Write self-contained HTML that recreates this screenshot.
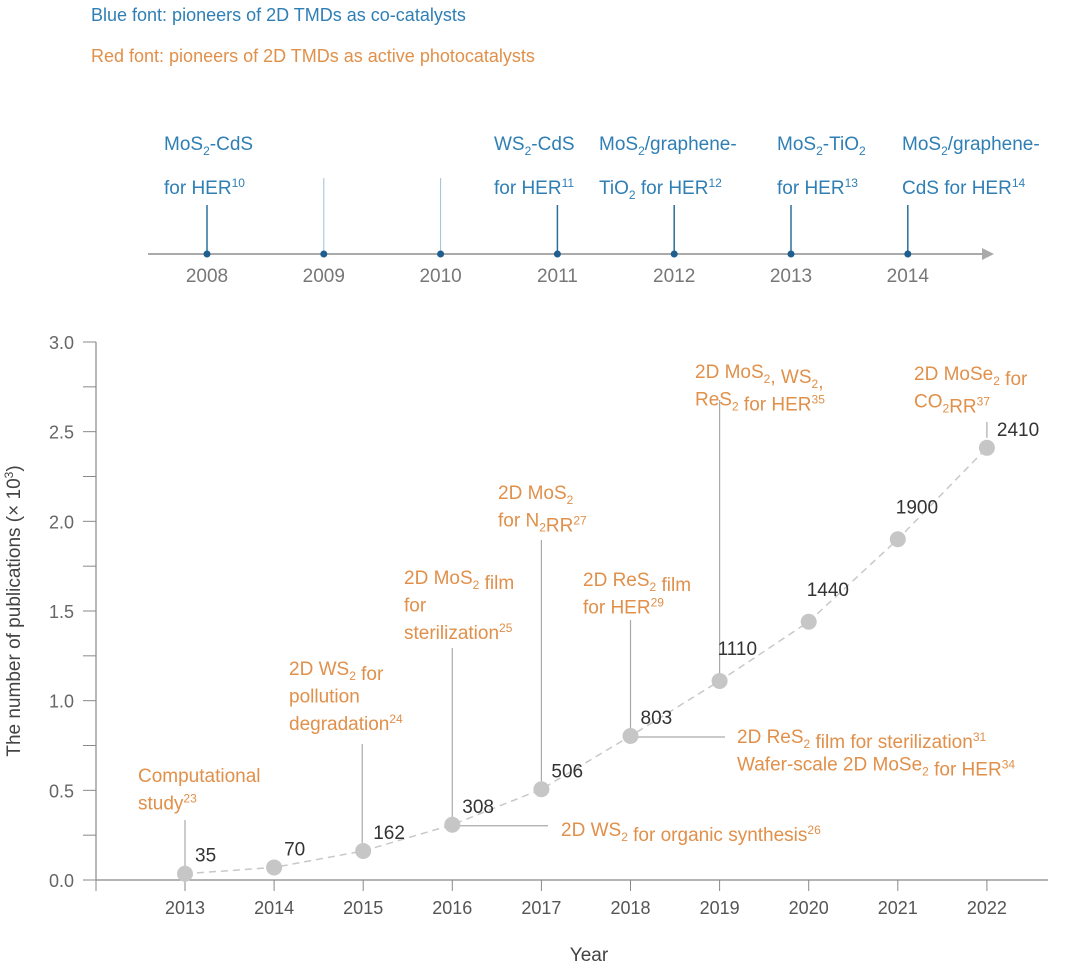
<!DOCTYPE html>
<html><head><meta charset="utf-8"><style>
body{margin:0;background:#fff;font-family:"Liberation Sans",sans-serif}
svg text{font-family:"Liberation Sans",sans-serif}
</style></head><body>
<svg width="1080" height="965" viewBox="0 0 1080 965" xmlns="http://www.w3.org/2000/svg">
<text x="91" y="21" font-size="18" fill="#2f7fb5">Blue font: pioneers of 2D TMDs as co-catalysts</text>
<text x="91" y="62" font-size="18" fill="#e0904a">Red font: pioneers of 2D TMDs as active photocatalysts</text>
<g id="timeline"></g>
<g id="plot"></g>
</svg>
<script>
const tlYears=[2008,2009,2010,2011,2012,2013,2014];
const years=[2013,2014,2015,2016,2017,2018,2019,2020,2021,2022];
const pubs=[35,70,162,308,506,803,1110,1440,1900,2410];
const yTicks=["0.0","0.5","1.0","1.5","2.0","2.5","3.0"];
const NS="http://www.w3.org/2000/svg";
function mk(p,t,a,txt){const e=document.createElementNS(NS,t);for(const k in a)e.setAttribute(k,a[k]);if(txt!==undefined)e.innerHTML=txt;p.appendChild(e);return e;}
const BLUE="#2f7fb5",ORG="#e0904a";
// timeline
const tl=document.getElementById('timeline');
const tx=y=>207+(y-2008)*116.8;
mk(tl,'line',{x1:148,y1:254,x2:984,y2:254,stroke:'#aaa','stroke-width':2});
mk(tl,'path',{d:'M982,248 L994,254 L982,260 Z',fill:'#aaa'});
const tlLabels={2008:['MoS<tspan font-size="12" dy="5">2</tspan><tspan dy="-5">-CdS</tspan>','for HER<tspan font-size="12" dy="-7">10</tspan>'],
2011:['WS<tspan font-size="12" dy="5">2</tspan><tspan dy="-5">-CdS</tspan>','for HER<tspan font-size="12" dy="-7">11</tspan>'],
2012:['MoS<tspan font-size="12" dy="5">2</tspan><tspan dy="-5">/graphene-</tspan>','TiO<tspan font-size="12" dy="5">2</tspan><tspan dy="-5"> for HER</tspan><tspan font-size="12" dy="-7">12</tspan>'],
2013:['MoS<tspan font-size="12" dy="5">2</tspan><tspan dy="-5">-TiO</tspan><tspan font-size="12" dy="5">2</tspan>','for HER<tspan font-size="12" dy="-7">13</tspan>'],
2014:['MoS<tspan font-size="12" dy="5">2</tspan><tspan dy="-5">/graphene-</tspan>','CdS for HER<tspan font-size="12" dy="-7">14</tspan>']};
const tlLeft={2008:164,2011:494,2012:599,2013:777,2014:902};
tlYears.forEach(y=>{
  const x=tx(y);const has=!!tlLabels[y];
  const ln=mk(tl,'line',{x1:x,y1:has?205:178,x2:x,y2:254,stroke:has?'#2a6f9a':'#9cc0d8','stroke-width':has?1.5:1});
  
  const c=mk(tl,'circle',{cx:x,cy:254,r:3.5,fill:'#1f5f8f'});
  
  const t=mk(tl,'text',{x:x,y:282,'font-size':19,fill:'#777','text-anchor':'middle'},y);
  
  if(has){
    const a=mk(tl,'text',{x:tlLeft[y],y:150,'font-size':19,fill:BLUE},tlLabels[y][0]);
    
    const b=mk(tl,'text',{x:tlLeft[y],y:194,'font-size':19,fill:BLUE},tlLabels[y][1]);
    
  }
});
// plot
const g=document.getElementById('plot');
const X0=96,Y0=880,YT=342;
const xs=y=>185+(y-2013)*89.1;
const ys=v=>Y0-(v/1000)/3*(Y0-YT);
mk(g,'line',{x1:X0,y1:YT,x2:X0,y2:Y0,stroke:'#888','stroke-width':1.2});
mk(g,'line',{x1:X0,y1:Y0,x2:1048,y2:Y0,stroke:'#888','stroke-width':1.2});
mk(g,'line',{x1:X0,y1:Y0,x2:X0,y2:891,stroke:'#888'});
for(let i=0;i<=12;i++){const v=i*250;const y=ys(v);
  mk(g,'line',{x1:83,y1:y,x2:X0,y2:y,stroke:'#888'});}
yTicks.forEach((s,i)=>{const t=mk(g,'text',{x:74,y:ys(parseFloat(s)*1000)+7,'font-size':18,fill:'#666','text-anchor':'end'},s);
  });
years.forEach(y=>{mk(g,'line',{x1:xs(y),y1:Y0,x2:xs(y),y2:891,stroke:'#888'});
  const t=mk(g,'text',{x:xs(y),y:914,'font-size':18,fill:'#555','text-anchor':'middle'},y);
  });
const yt=mk(g,'text',{x:0,y:0,'font-size':19,fill:'#444','text-anchor':'middle',transform:'translate(20,611) rotate(-90)'},'The number of publications (× 10<tspan font-size="12" dy="-7">3</tspan><tspan dy="7">)</tspan>');

const xt=mk(g,'text',{x:589,y:961,'font-size':19,fill:'#444','text-anchor':'middle'},'Year');

// dashed curve
let d='';years.forEach((y,i)=>{d+=(i?'L':'M')+xs(y)+','+ys(pubs[i]);});
const cv=mk(g,'path',{d:d,fill:'none',stroke:'#c8c8c8','stroke-width':1.5,'stroke-dasharray':'7,5'});

// annotations (leader lines)
const lead=(x1,y1,x2,y2)=>mk(g,'line',{x1,y1,x2,y2,stroke:'#aaa','stroke-width':1.2});
lead(xs(2013),820,xs(2013),ys(35));
lead(xs(2015)-1,744,xs(2015)-1,ys(162)-8);
lead(xs(2016),648,xs(2016),ys(308));lead(xs(2016),ys(308)+1,548,ys(308)+1);
lead(xs(2017),540,xs(2017),ys(506)-8);
lead(xs(2018),620,xs(2018),ys(803));lead(xs(2018),ys(803)+1,725,ys(803)+1);
lead(xs(2019),400,xs(2019),ys(1110)-8);
lead(xs(2022),422,xs(2022),ys(2410)-10);
years.forEach((y,i)=>{
  const c=mk(g,'circle',{cx:xs(y),cy:ys(pubs[i]),r:8,fill:'#c6c6c6'});
  
  const t=mk(g,'text',{x:xs(y)+(i>=6&&i<=8?-2:10),y:ys(pubs[i])-(i>=6&&i<=8?26:12),'font-size':19,fill:'#333'},pubs[i]);
  
});
const sub=s=>'<tspan font-size="12" dy="5">'+s+'</tspan><tspan dy="-5"></tspan>';
const sup=s=>'<tspan font-size="12" dy="-7">'+s+'</tspan><tspan dy="7"></tspan>';
const notes=[
 [138,782,['Computational','study'+sup('23')]],
 [289,675,['2D WS'+sub('2')+' for','pollution','degradation'+sup('24')]],
 [404,584,['2D MoS'+sub('2')+' film','for','sterilization'+sup('25')]],
 [498,499,['2D MoS'+sub('2'),'for N'+sub('2')+'RR'+sup('27')]],
 [583,586,['2D ReS'+sub('2')+' film','for HER'+sup('29')]],
 [695,378,['2D MoS'+sub('2')+', WS'+sub('2')+',','ReS'+sub('2')+' for HER'+sup('35')]],
 [914,380,['2D MoSe'+sub('2')+' for','CO'+sub('2')+'RR'+sup('37')]],
 [561,836,['2D WS'+sub('2')+' for organic synthesis'+sup('26')]],
 [737,743,['2D ReS'+sub('2')+' film for sterilization'+sup('31'),'Wafer-scale 2D MoSe'+sub('2')+' for HER'+sup('34')]]
];
notes.forEach((n,k)=>{n[2].forEach((l,j)=>{
  const t=mk(g,'text',{x:n[0],y:n[1]+j*27.5,'font-size':19,fill:ORG},l);
  });});
</script>
</body></html>
